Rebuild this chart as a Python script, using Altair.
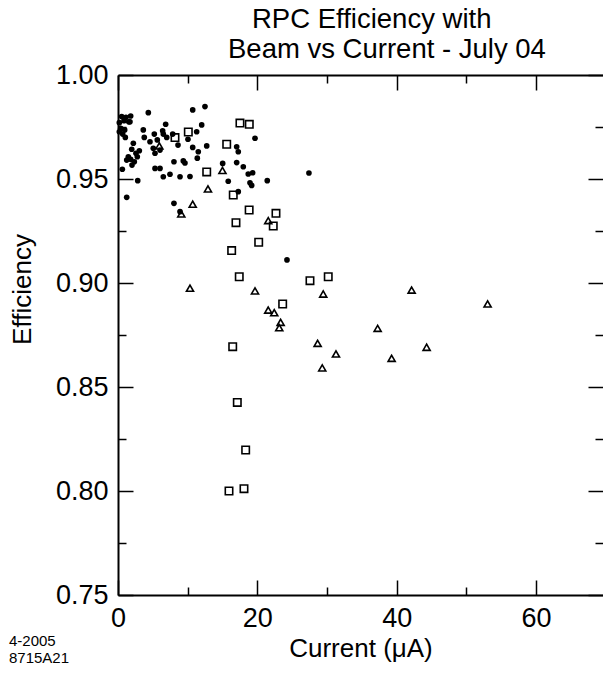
import altair as alt
import pandas as pd

FONT = "Liberation Sans"

# ---- data (Current in uA, Efficiency) ----
dot_x = [4.35, 10.72, 12.48, 0.53, 1.15, 1.82, 0.19, 0.86, 1.54, 0.39, 0.96, 0.19, 0.67, 1.05, 1.72,
         2.20, 3.06, 2.58, 1.97, 1.48, 1.82, 2.34, 2.77, 2.01, 1.25,
         3.63, 3.77, 4.59, 5.21, 6.41, 6.84, 6.50, 6.99, 7.85, 8.61, 5.64, 5.06, 5.31, 6.03,
         5.31, 6.03, 6.50, 7.46, 8.03, 9.37, 9.61, 8.90, 10.33, 10.04, 10.72, 11.52, 11.38,
         11.29, 12.01, 12.73, 0.62, 2.83, 1.25, 8.03, 8.90,
         19.66, 17.03, 17.26, 15.02, 17.03, 17.98, 18.69, 19.33, 18.94, 19.18, 15.82, 17.26,
         21.42, 24.25, 27.40]
dot_y = [0.9819, 0.9832, 0.9848, 0.9800, 0.9797, 0.9803, 0.9771, 0.9780, 0.9775, 0.9744, 0.9736, 0.9727, 0.9716, 0.9700, 0.9775,
         0.9672, 0.9636, 0.9624, 0.9643, 0.9607, 0.9595, 0.9583, 0.9607, 0.9567, 0.9591,
         0.9736, 0.9700, 0.9679, 0.9716, 0.9732, 0.9763, 0.9716, 0.9700, 0.9716, 0.9663, 0.9688, 0.9648, 0.9624, 0.9639,
         0.9551, 0.9551, 0.9511, 0.9523, 0.9583, 0.9587, 0.9577, 0.9511, 0.9512, 0.9691, 0.9652, 0.9631, 0.9600,
         0.9727, 0.9760, 0.9659, 0.9547, 0.9492, 0.9412, 0.9383, 0.9343,
         0.9696, 0.9655, 0.9631, 0.9575, 0.9579, 0.9559, 0.9524, 0.9530, 0.9482, 0.9469, 0.9489, 0.9439,
         0.9492, 0.9111, 0.9529]

sq_x = [10.09, 8.18, 17.50, 18.84, 15.60, 12.73, 16.54, 18.82, 22.67, 22.28, 16.93, 20.19, 16.31,
        17.40, 27.55, 30.17, 23.63, 16.46, 17.12, 18.32, 15.93, 18.08]
sq_y = [0.9726, 0.9699, 0.9769, 0.9763, 0.9667, 0.9534, 0.9423, 0.9351, 0.9335, 0.9274, 0.9290, 0.9196, 0.9156,
        0.9030, 0.9011, 0.9030, 0.8899, 0.8694, 0.8426, 0.8197, 0.8000, 0.8011]

tri_x = [5.93, 14.99, 12.91, 10.72, 9.08, 21.56, 10.33, 19.66, 29.45, 21.56, 22.42, 23.34, 23.14,
         28.65, 31.28, 29.31, 42.14, 53.04, 37.26, 44.29, 39.27]
tri_y = [0.9659, 0.9541, 0.9452, 0.9379, 0.9332, 0.9300, 0.8975, 0.8962, 0.8947, 0.8870, 0.8857, 0.8811, 0.8785,
         0.8710, 0.8659, 0.8592, 0.8966, 0.8899, 0.8782, 0.8691, 0.8638]

x_major = [0, 20, 40, 60]
x_minor = [10, 30, 50]
y_major = [0.75, 0.80, 0.85, 0.90, 0.95, 1.00]
y_minor = [0.775, 0.825, 0.875, 0.925, 0.975]

title_lines = ["RPC Efficiency with", "Beam vs Current - July 04"]
note_lines = ["4-2005", "8715A21"]
x_title = "Current (\u03bcA)"
y_title = "Efficiency"

dots = pd.DataFrame({"x": dot_x, "y": dot_y})
squares = pd.DataFrame({"x": sq_x, "y": sq_y})
tris = pd.DataFrame({"x": tri_x, "y": tri_y})

xscale = alt.Scale(domain=[0, 69.6], nice=False, zero=False)
yscale = alt.Scale(domain=[0.75, 1.0], nice=False, zero=False)

MAJ = 15
MIN = 8
LABEL_FS = 27
TITLE_FS = 26


def tick_axis(orient, values, size, labels=False, title=None, fmt=None, **kw):
    args = dict(orient=orient, values=values, offset=-size, tickSize=size, tickWidth=1.5,
                tickColor="black", domain=False, grid=False, labels=labels, title=title)
    if labels:
        args.update(labelFont=FONT, labelFontSize=LABEL_FS, labelColor="black", labelFlush=False,
                    labelPadding=10, format=fmt)
    if title:
        args.update(titleFont=FONT, titleFontSize=TITLE_FS, titleFontWeight="normal", titleColor="black")
    args.update(kw)
    return alt.Axis(**args)


def domain_axis(orient):
    return alt.Axis(orient=orient, domain=True, domainWidth=2, domainColor="black", ticks=False,
                    labels=False, title=None, grid=False)


def enc(xaxis, yaxis):
    return dict(
        x=alt.X("x:Q", scale=xscale, axis=xaxis),
        y=alt.Y("y:Q", scale=yscale, axis=yaxis),
    )


dot_layer = alt.Chart(dots).mark_point(shape="circle", filled=True, color="black", size=32, opacity=1).encode(
    **enc(tick_axis("bottom", x_major, MAJ, labels=True, title=x_title, fmt="d", titlePadding=4),
          tick_axis("left", y_major, MAJ, labels=True, title=y_title, fmt=".2f", titlePadding=20,
                    titleY=214))
)
sq_layer = alt.Chart(squares).mark_point(shape="square", filled=False, color="black", size=55,
                                         strokeWidth=1.6, opacity=1).encode(
    **enc(tick_axis("bottom", x_minor, MIN), tick_axis("left", y_minor, MIN))
)
tri_layer = alt.Chart(tris).mark_point(shape="triangle-up", filled=False, color="black", size=50,
                                       strokeWidth=1.6, opacity=1).encode(
    **enc(tick_axis("top", x_major, MAJ), tick_axis("right", y_major, MAJ))
)
minor2_layer = alt.Chart(tris).mark_point(opacity=0).encode(
    **enc(tick_axis("top", x_minor, MIN), tick_axis("right", y_minor, MIN))
)
dom1_layer = alt.Chart(tris).mark_point(opacity=0).encode(
    **enc(domain_axis("bottom"), domain_axis("left"))
)
dom2_layer = alt.Chart(tris).mark_point(opacity=0).encode(
    **enc(domain_axis("top"), None)
)

one = pd.DataFrame({"a": [0]})
title1 = alt.Chart(one).mark_text(
    text=title_lines[0], align="left", baseline="alphabetic", font=FONT, fontSize=27.5, color="black"
).encode(x=alt.value(134), y=alt.value(-47))
title2 = alt.Chart(one).mark_text(
    text=title_lines[1], align="left", baseline="alphabetic", font=FONT, fontSize=27.5, color="black"
).encode(x=alt.value(110), y=alt.value(-17))
note1 = alt.Chart(one).mark_text(
    text=note_lines[0], align="left", baseline="alphabetic", font=FONT, fontSize=15, color="black"
).encode(x=alt.value(-109), y=alt.value(571))
note2 = alt.Chart(one).mark_text(
    text=note_lines[1], align="left", baseline="alphabetic", font=FONT, fontSize=15, color="black"
).encode(x=alt.value(-109), y=alt.value(588))

chart = alt.layer(
    dom1_layer, dom2_layer, minor2_layer, sq_layer, tri_layer, dot_layer, title1, title2, note1, note2
).resolve_axis(x="independent", y="independent").properties(
    width=485,
    height=520,
    padding={"left": 118, "top": 75, "right": 0, "bottom": 79},
    autosize=alt.AutoSizeParams(type="none"),
).configure_view(stroke=None)

chart.save("out.html", embed_options={"renderer": "svg", "actions": False})
